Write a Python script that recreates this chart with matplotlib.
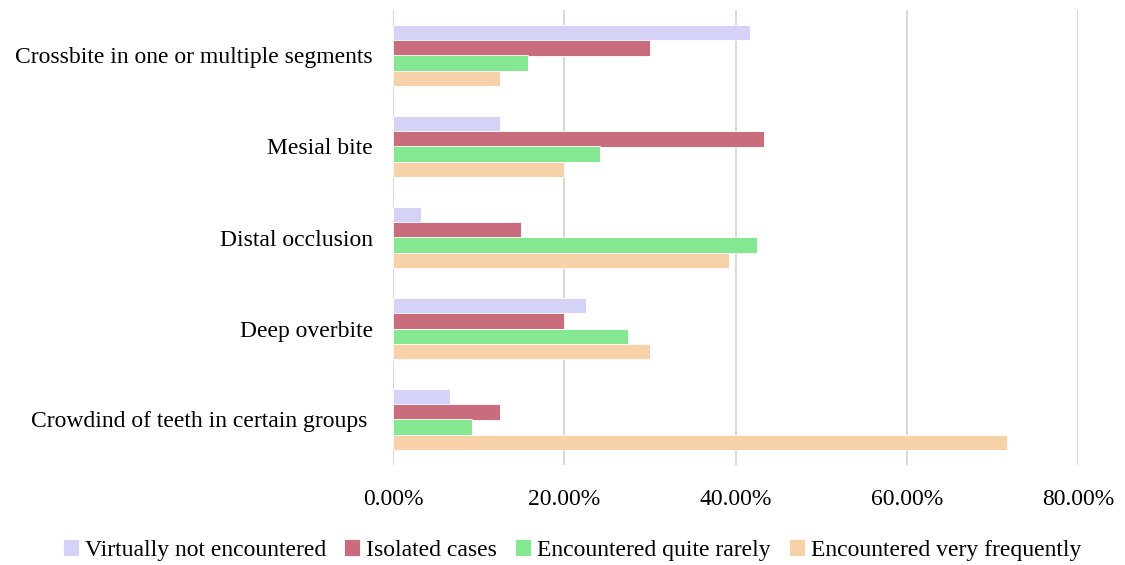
import matplotlib
matplotlib.use("Agg")
import matplotlib.pyplot as plt
import numpy as np
from matplotlib.ticker import FuncFormatter

plt.rcParams['font.family'] = ['Liberation Serif', 'DejaVu Serif']

categories = ["Crowdind of teeth in certain groups ", "Deep overbite", "Distal occlusion",
              "Mesial bite", "Crossbite in one or multiple segments"]
series_names = ["Virtually not encountered", "Isolated cases",
                "Encountered quite rarely", "Encountered very frequently"]
virtually_not = [6.7, 22.5, 3.3, 12.5, 41.7]
isolated = [12.5, 20.0, 15.0, 43.3, 30.0]
quite_rarely = [9.2, 27.5, 42.5, 24.2, 15.8]
very_frequently = [71.7, 30.0, 39.2, 20.0, 12.5]
colors = ["#D5D2F7", "#C96D7C", "#84E892", "#F7D1A8"]
xticks = [0, 20, 40, 60, 80]

fig = plt.figure(figsize=(11.25, 5.65), dpi=100)
ax = fig.add_axes([393/1125, 1-465/565, (1078-393)/1125, (465-10)/565])

y = np.arange(len(categories))
h = 0.17
all_series = [virtually_not, isolated, quite_rarely, very_frequently]
offsets = [1.5, 0.5, -0.5, -1.5]
for vals, name, c, off in zip(all_series, series_names, colors, offsets):
    ax.barh(y + off*h, vals, height=h, color=c, label=name, edgecolor='white', linewidth=0.6, zorder=3)

ax.set_xlim(0, 80)
ax.set_ylim(-0.5, 4.5)
ax.set_xticks(xticks)
ax.xaxis.set_major_formatter(FuncFormatter(lambda v, p: f"{v:.2f}%"))
ax.set_yticks(y)
ax.set_yticklabels(categories)
ax.tick_params(axis='both', length=0, labelsize=17, colors='black')
ax.tick_params(axis='x', pad=17.5)
ax.tick_params(axis='y', pad=14.5)
ax.grid(axis='x', color='#D9D9D9', linewidth=1.5, zorder=0)
for s in ax.spines.values():
    s.set_visible(False)

leg = fig.legend(loc='center', bbox_to_anchor=(572/1125, 1-550/565), ncol=4, frameon=False,
                 fontsize=17, handlelength=0.7, handleheight=0.7, handletextpad=0.25, columnspacing=0.75)

fig.savefig("out.png", dpi=100)
